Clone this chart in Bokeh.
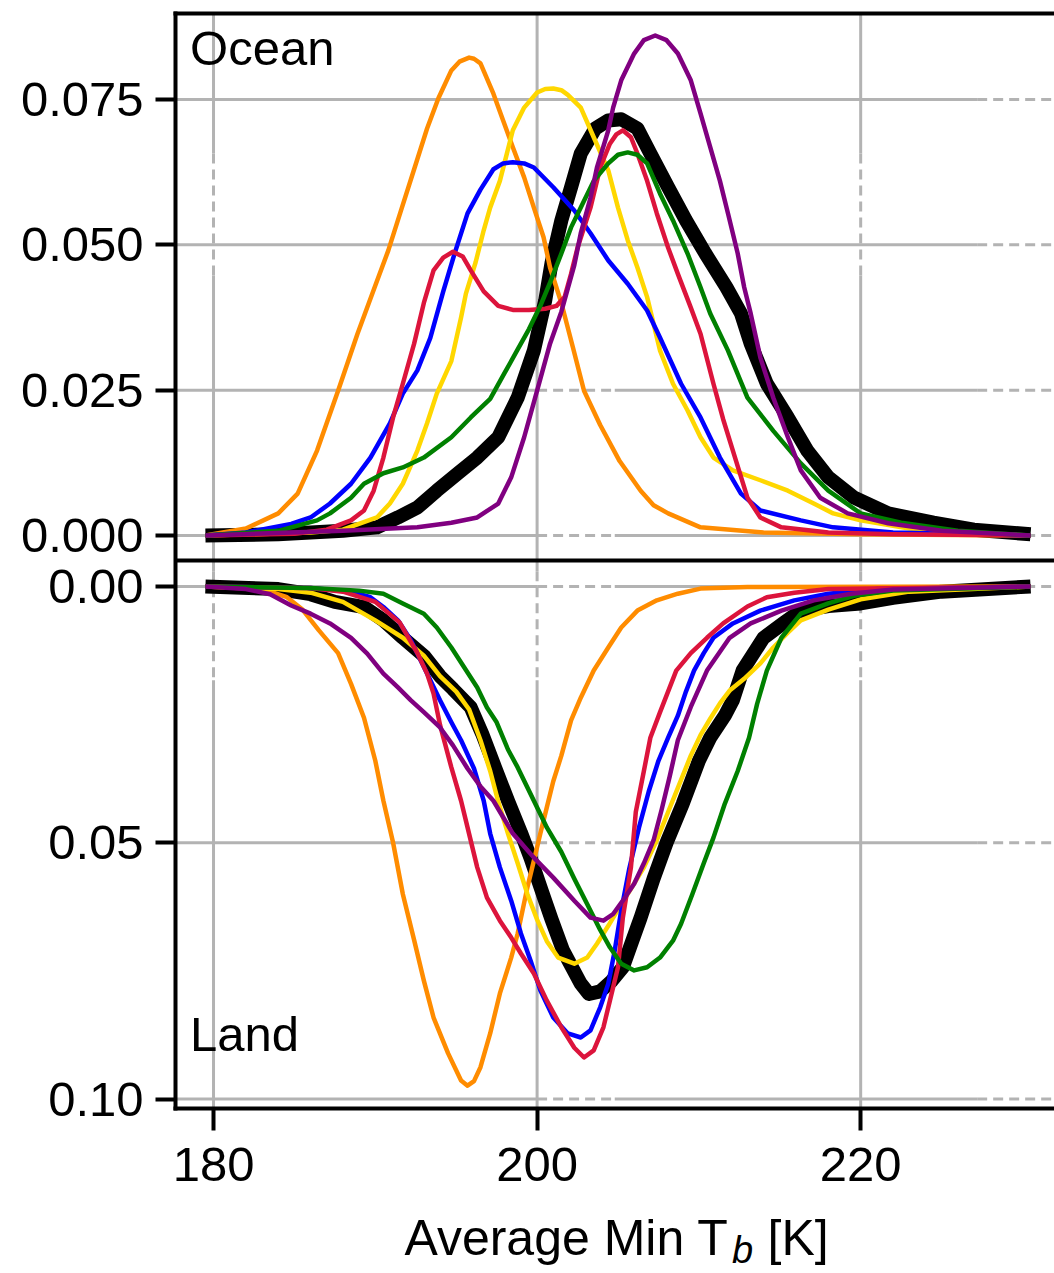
from bokeh.plotting import figure
from bokeh.layouts import column
from bokeh.models import Range1d, LinearAxis, FixedTicker, Label, Span
from bokeh.embed import file_html
from bokeh.resources import INLINE

# ---------------- data: density of average minimum Tb ----------------
# Ocean panel
ocean_black_t = [179.5, 184.0, 188.0, 190.1, 191.4, 192.6, 193.8, 195.1, 196.3, 197.6, 198.8, 199.8, 200.5, 200.9, 201.5, 202.1, 202.7, 203.6, 204.4, 205.2, 206.2, 207.0, 208.1, 209.2, 210.4, 211.7, 212.6, 213.2, 214.2, 215.5, 216.7, 218.0, 219.6, 221.7, 224.5, 227.0, 230.5]
ocean_black_v = [0.0, 0.0002, 0.0008, 0.0014, 0.0031, 0.0048, 0.0077, 0.0107, 0.0134, 0.0169, 0.0237, 0.0318, 0.0404, 0.0470, 0.0542, 0.0599, 0.0657, 0.0700, 0.0714, 0.0716, 0.0700, 0.0657, 0.0599, 0.0542, 0.0485, 0.0427, 0.0382, 0.0330, 0.0261, 0.0203, 0.0146, 0.0100, 0.0065, 0.0038, 0.0022, 0.0010, 0.0002]

ocean_orange_t = [179.5, 182.0, 184.0, 185.2, 186.4, 187.7, 188.9, 190.0, 190.8, 191.6, 192.4, 193.2, 193.9, 194.7, 195.2, 195.8, 196.1, 196.5, 197.3, 197.9, 198.5, 199.2, 199.8, 200.4, 200.8, 201.5, 202.2, 202.9, 203.9, 205.1, 206.4, 207.2, 208.1, 210.1, 214.0, 220.0, 230.5]
ocean_orange_v = [0.0, 0.0012, 0.0038, 0.0072, 0.0146, 0.0249, 0.0347, 0.0430, 0.0490, 0.0560, 0.0630, 0.0700, 0.0752, 0.0800, 0.0815, 0.0822, 0.0820, 0.0812, 0.0760, 0.0714, 0.0668, 0.0616, 0.0564, 0.0513, 0.0461, 0.0400, 0.0325, 0.0249, 0.0190, 0.0128, 0.0077, 0.0052, 0.0038, 0.0014, 0.0005, 0.0002, 0.0]

ocean_yellow_t = [179.5, 186.0, 188.0, 190.1, 190.9, 191.7, 192.6, 193.2, 193.8, 194.7, 195.3, 195.6, 196.2, 196.7, 197.1, 197.7, 198.5, 199.2, 200.0, 200.5, 201.0, 201.5, 201.9, 202.7, 203.5, 204.4, 205.0, 205.6, 206.2, 206.8, 207.6, 208.4, 209.3, 210.1, 210.9, 212.1, 213.8, 215.5, 217.1, 218.3, 220.0, 223.0, 226.0, 230.5]
ocean_yellow_v = [0.0, 0.0005, 0.0010, 0.0031, 0.0055, 0.0089, 0.0146, 0.0193, 0.0244, 0.0300, 0.0375, 0.0416, 0.0470, 0.0525, 0.0564, 0.0610, 0.0697, 0.0736, 0.0762, 0.0768, 0.0769, 0.0766, 0.0758, 0.0736, 0.0685, 0.0628, 0.0564, 0.0508, 0.0461, 0.0410, 0.0318, 0.0261, 0.0215, 0.0169, 0.0134, 0.0112, 0.0095, 0.0077, 0.0055, 0.0038, 0.0026, 0.0012, 0.0005, 0.0]

ocean_blue_t = [179.5, 182.0, 184.8, 186.0, 187.2, 188.5, 189.7, 190.9, 191.7, 192.6, 193.4, 194.2, 194.9, 195.7, 196.5, 197.3, 197.9, 198.5, 199.2, 199.8, 201.0, 202.3, 203.3, 204.4, 205.6, 206.8, 207.6, 208.9, 210.1, 211.3, 212.6, 213.8, 216.3, 218.3, 222.0, 230.5]
ocean_blue_v = [0.0, 0.0005, 0.0020, 0.0031, 0.0055, 0.0089, 0.0134, 0.0193, 0.0244, 0.0284, 0.0340, 0.0420, 0.0485, 0.0554, 0.0595, 0.0630, 0.0640, 0.0642, 0.0640, 0.0633, 0.0599, 0.0559, 0.0520, 0.0473, 0.0433, 0.0387, 0.0340, 0.0261, 0.0203, 0.0134, 0.0072, 0.0043, 0.0026, 0.0014, 0.0005, 0.0]

ocean_red_t = [179.5, 185.0, 187.0, 188.5, 189.3, 189.9, 190.5, 191.1, 191.7, 192.4, 193.0, 193.6, 194.2, 194.8, 195.4, 195.9, 196.7, 197.6, 198.5, 199.5, 200.5, 201.2, 201.7, 202.1, 202.5, 203.3, 203.9, 204.5, 204.9, 205.3, 205.8, 206.2, 206.8, 207.4, 208.1, 208.7, 209.5, 210.1, 210.9, 211.5, 212.1, 213.0, 213.8, 215.1, 218.0, 222.0, 230.5]
ocean_red_v = [0.0, 0.0003, 0.0010, 0.0026, 0.0043, 0.0077, 0.0134, 0.0203, 0.0261, 0.0330, 0.0400, 0.0456, 0.0478, 0.0488, 0.0480, 0.0456, 0.0420, 0.0395, 0.0388, 0.0388, 0.0390, 0.0395, 0.0410, 0.0450, 0.0495, 0.0564, 0.0633, 0.0674, 0.0690, 0.0697, 0.0685, 0.0657, 0.0610, 0.0554, 0.0495, 0.0450, 0.0392, 0.0347, 0.0261, 0.0200, 0.0146, 0.0065, 0.0031, 0.0014, 0.0005, 0.0002, 0.0]

ocean_green_t = [179.5, 184.0, 186.4, 187.2, 188.5, 189.3, 190.5, 191.7, 193.0, 194.7, 195.9, 197.1, 198.0, 198.8, 199.5, 200.2, 200.8, 201.5, 202.1, 202.7, 203.5, 204.4, 205.0, 205.6, 206.2, 206.8, 207.6, 208.4, 209.3, 210.1, 210.7, 211.8, 213.0, 214.6, 216.3, 218.0, 220.0, 222.5, 226.0, 230.5]
ocean_green_v = [0.0, 0.0008, 0.0026, 0.0038, 0.0065, 0.0089, 0.0107, 0.0117, 0.0134, 0.0169, 0.0203, 0.0235, 0.0280, 0.0320, 0.0355, 0.0395, 0.0435, 0.0485, 0.0530, 0.0564, 0.0610, 0.0640, 0.0655, 0.0659, 0.0655, 0.0640, 0.0588, 0.0542, 0.0485, 0.0427, 0.0382, 0.0318, 0.0237, 0.0180, 0.0124, 0.0077, 0.0038, 0.0022, 0.0008, 0.0]

ocean_purple_t = [179.5, 188.0, 192.6, 194.7, 196.3, 197.6, 198.4, 199.2, 200.0, 200.8, 201.5, 201.9, 202.3, 202.7, 203.3, 203.7, 204.4, 204.7, 205.2, 206.0, 206.6, 207.3, 208.0, 208.7, 209.5, 210.1, 210.7, 211.3, 211.8, 212.4, 212.8, 213.2, 213.8, 214.6, 215.5, 216.3, 217.5, 219.2, 221.7, 225.0, 230.5]
ocean_purple_v = [0.0, 0.0008, 0.0014, 0.0022, 0.0031, 0.0055, 0.0100, 0.0169, 0.0249, 0.0330, 0.0385, 0.0425, 0.0465, 0.0520, 0.0581, 0.0633, 0.0697, 0.0736, 0.0783, 0.0829, 0.0852, 0.0860, 0.0852, 0.0829, 0.0783, 0.0726, 0.0668, 0.0610, 0.0554, 0.0485, 0.0427, 0.0382, 0.0306, 0.0237, 0.0169, 0.0112, 0.0065, 0.0038, 0.0021, 0.0008, 0.0]

# Land panel (drawn downward)
land_black_t = [179.5, 184.0, 186.0, 187.5, 189.3, 190.5, 191.7, 193.0, 194.0, 194.8, 195.9, 196.6, 197.4, 198.2, 199.0, 199.6, 200.3, 200.9, 201.6, 202.7, 203.2, 203.9, 204.6, 205.3, 205.9, 206.4, 207.2, 208.0, 209.0, 210.0, 210.7, 211.6, 212.1, 212.7, 214.0, 215.2, 216.3, 218.0, 220.0, 222.0, 225.0, 230.5]
land_black_v = [0.0, 0.0005, 0.0015, 0.0030, 0.0040, 0.0066, 0.0100, 0.0135, 0.0175, 0.0200, 0.0236, 0.0287, 0.0353, 0.0418, 0.0480, 0.0530, 0.0595, 0.0650, 0.0710, 0.0775, 0.0795, 0.0790, 0.0770, 0.0743, 0.0690, 0.0646, 0.0570, 0.0500, 0.0424, 0.0340, 0.0295, 0.0252, 0.0222, 0.0164, 0.0100, 0.0072, 0.0047, 0.0038, 0.0033, 0.0022, 0.0010, 0.0]

land_orange_t = [179.5, 183.0, 184.5, 185.5, 186.5, 187.7, 188.5, 189.3, 190.0, 190.5, 191.1, 191.7, 192.4, 193.0, 193.6, 194.5, 195.3, 195.7, 196.1, 196.5, 197.1, 197.7, 198.4, 198.8, 199.4, 199.8, 200.2, 200.6, 201.0, 201.5, 202.1, 202.7, 203.5, 204.4, 205.2, 206.2, 207.4, 208.7, 210.1, 213.0, 230.5]
land_orange_v = [0.0, 0.0005, 0.0020, 0.0045, 0.0085, 0.0130, 0.0190, 0.0256, 0.0340, 0.0418, 0.0500, 0.0600, 0.0690, 0.0769, 0.0841, 0.0911, 0.0964, 0.0974, 0.0965, 0.0938, 0.0872, 0.0794, 0.0724, 0.0677, 0.0587, 0.0535, 0.0482, 0.0431, 0.0380, 0.0330, 0.0261, 0.0217, 0.0164, 0.0119, 0.0080, 0.0047, 0.0027, 0.0014, 0.0004, 0.0001, 0.0]

land_yellow_t = [179.5, 184.0, 186.0, 188.0, 190.0, 191.7, 193.0, 194.0, 195.0, 195.8, 196.5, 197.1, 197.6, 198.2, 198.8, 199.4, 200.0, 200.6, 201.3, 202.3, 203.1, 203.7, 204.4, 205.1, 205.8, 206.6, 207.4, 208.1, 208.8, 209.5, 210.1, 210.7, 211.3, 211.9, 212.8, 213.8, 214.6, 215.5, 216.3, 218.0, 220.0, 223.0, 230.5]
land_yellow_v = [0.0, 0.0005, 0.0012, 0.0030, 0.0066, 0.0100, 0.0135, 0.0175, 0.0205, 0.0240, 0.0300, 0.0360, 0.0420, 0.0482, 0.0540, 0.0600, 0.0650, 0.0692, 0.0724, 0.0736, 0.0724, 0.0697, 0.0662, 0.0625, 0.0590, 0.0548, 0.0495, 0.0440, 0.0385, 0.0330, 0.0290, 0.0258, 0.0228, 0.0203, 0.0180, 0.0150, 0.0119, 0.0090, 0.0066, 0.0045, 0.0025, 0.0010, 0.0]

land_blue_t = [179.5, 186.0, 188.5, 189.7, 190.5, 191.4, 192.2, 192.8, 193.4, 194.0, 194.7, 195.3, 196.1, 196.7, 197.1, 197.7, 198.4, 199.0, 199.6, 200.2, 201.0, 201.9, 202.7, 203.3, 203.9, 204.4, 204.8, 205.2, 205.7, 206.3, 206.9, 207.5, 208.1, 208.7, 209.2, 209.7, 210.3, 210.9, 212.1, 213.8, 215.9, 218.0, 221.0, 230.5]
land_blue_v = [0.0, 0.0003, 0.0010, 0.0021, 0.0040, 0.0066, 0.0105, 0.0144, 0.0183, 0.0222, 0.0265, 0.0300, 0.0355, 0.0418, 0.0482, 0.0548, 0.0613, 0.0677, 0.0730, 0.0788, 0.0841, 0.0872, 0.0880, 0.0866, 0.0821, 0.0775, 0.0710, 0.0632, 0.0550, 0.0470, 0.0400, 0.0340, 0.0295, 0.0252, 0.0205, 0.0164, 0.0130, 0.0100, 0.0072, 0.0047, 0.0027, 0.0014, 0.0005, 0.0]

land_red_t = [179.5, 186.0, 188.0, 190.0, 191.5, 192.6, 193.2, 193.6, 194.0, 194.7, 195.3, 195.7, 196.3, 196.9, 197.7, 198.4, 199.0, 199.8, 200.6, 201.5, 202.3, 202.9, 203.5, 204.1, 204.5, 205.0, 205.3, 205.8, 206.1, 206.6, 207.0, 207.6, 208.6, 209.5, 210.5, 211.5, 213.0, 214.2, 215.9, 218.0, 230.5]
land_red_v = [0.0, 0.0003, 0.0010, 0.0030, 0.0070, 0.0130, 0.0170, 0.0209, 0.0270, 0.0353, 0.0418, 0.0470, 0.0548, 0.0607, 0.0652, 0.0685, 0.0716, 0.0755, 0.0808, 0.0860, 0.0900, 0.0919, 0.0905, 0.0860, 0.0808, 0.0743, 0.0646, 0.0548, 0.0440, 0.0360, 0.0295, 0.0245, 0.0164, 0.0130, 0.0100, 0.0072, 0.0039, 0.0021, 0.0012, 0.0005, 0.0]

land_green_t = [179.5, 186.0, 189.0, 190.5, 191.7, 193.0, 193.8, 194.7, 195.5, 196.3, 196.9, 197.5, 198.2, 198.8, 199.8, 200.6, 201.5, 202.3, 203.1, 203.9, 204.5, 205.2, 206.0, 206.8, 207.6, 208.4, 208.9, 209.6, 210.3, 210.9, 211.6, 212.4, 213.1, 213.6, 214.2, 215.1, 216.3, 218.0, 219.6, 222.0, 230.5]
land_green_v = [0.0, 0.0003, 0.0008, 0.0014, 0.0033, 0.0053, 0.0080, 0.0119, 0.0158, 0.0197, 0.0236, 0.0265, 0.0318, 0.0353, 0.0418, 0.0470, 0.0518, 0.0570, 0.0620, 0.0670, 0.0704, 0.0736, 0.0749, 0.0743, 0.0724, 0.0691, 0.0658, 0.0600, 0.0540, 0.0490, 0.0424, 0.0360, 0.0295, 0.0229, 0.0164, 0.0100, 0.0053, 0.0033, 0.0018, 0.0008, 0.0]

land_purple_t = [179.5, 182.0, 183.5, 184.8, 186.0, 187.2, 188.5, 189.5, 190.5, 191.4, 192.2, 193.0, 194.0, 194.8, 195.7, 196.5, 197.3, 198.5, 199.8, 201.0, 202.3, 203.3, 204.1, 204.7, 205.3, 206.0, 206.6, 207.2, 207.7, 208.2, 208.7, 209.5, 210.5, 211.9, 213.2, 215.1, 217.1, 219.4, 222.0, 230.5]
land_purple_v = [0.0, 0.0005, 0.0015, 0.0037, 0.0053, 0.0072, 0.0100, 0.0131, 0.0170, 0.0197, 0.0222, 0.0245, 0.0275, 0.0310, 0.0355, 0.0390, 0.0418, 0.0482, 0.0529, 0.0568, 0.0613, 0.0646, 0.0652, 0.0639, 0.0613, 0.0580, 0.0540, 0.0495, 0.0435, 0.0370, 0.0300, 0.0235, 0.0164, 0.0100, 0.0072, 0.0047, 0.0027, 0.0014, 0.0006, 0.0]

x_ticks = [180, 200, 220]
ocean_ticks = [0.0, 0.025, 0.05, 0.075]
land_ticks = [0.0, 0.05, 0.10]

# ---------------- styling ----------------
FONT = "Liberation Sans"
TICK_SIZE = "49px"
GRID = "#b3b3b3"
X_LO, X_HI = 177.65, 231.98

BLACK, ORANGE, GOLD = "#000000", "#ff8c00", "#ffd700"
BLUE, CRIMSON, GREEN, PURPLE = "#0000ff", "#dc143c", "#008000", "#800080"

ocean_series = [
    (ocean_black_t, ocean_black_v, BLACK, 14),
    (ocean_orange_t, ocean_orange_v, ORANGE, 4.5),
    (ocean_yellow_t, ocean_yellow_v, GOLD, 4.5),
    (ocean_blue_t, ocean_blue_v, BLUE, 4.5),
    (ocean_red_t, ocean_red_v, CRIMSON, 4.5),
    (ocean_green_t, ocean_green_v, GREEN, 4.5),
    (ocean_purple_t, ocean_purple_v, PURPLE, 4.5),
]
land_series = [
    (land_black_t, land_black_v, BLACK, 14),
    (land_orange_t, land_orange_v, ORANGE, 4.5),
    (land_yellow_t, land_yellow_v, GOLD, 4.5),
    (land_blue_t, land_blue_v, BLUE, 4.5),
    (land_red_t, land_red_v, CRIMSON, 4.5),
    (land_green_t, land_green_v, GREEN, 4.5),
    (land_purple_t, land_purple_v, PURPLE, 4.5),
]

# Both panels share one frame: the ocean panel uses the default y range
# (upward) in the upper half, the land panel an inverted extra range below.
ocean_range = Range1d(-0.09857, 0.08979)
land_range = Range1d(0.10185, -0.11181)
ocean_floor = -0.0043     # panel divider, ocean units
land_ceiling = -0.00507   # same divider, land units


def land_to_ocean(v):
    f = (v - land_range.end) / (land_range.start - land_range.end)
    return ocean_range.end - f * (ocean_range.end - ocean_range.start)


p = figure(width=1054, height=1205,
           x_range=Range1d(X_LO, X_HI), y_range=ocean_range,
           output_backend="svg", toolbar_location=None,
           x_axis_location=None, y_axis_location=None,
           min_border_left=175, min_border_right=0,
           min_border_top=13, min_border_bottom=97)
p.extra_y_ranges = {"land": land_range}
p.grid.visible = False
p.outline_line_color = None
p.background_fill_color = "white"
p.border_fill_color = "white"

# top border
p.add_layout(LinearAxis(ticker=FixedTicker(ticks=[]), axis_line_width=4,
                        axis_line_color="black", axis_line_cap="square",
                        major_tick_out=0, major_tick_in=0,
                        minor_tick_out=0, minor_tick_in=0,
                        major_label_text_font_size="0px"), "above")

# left axis: ocean ticks plus land ticks placed through the land range
left_ticks = list(ocean_ticks) + [land_to_ocean(v) for v in land_ticks]
left_labels = {t: "%.3f" % t for t in ocean_ticks}
left_labels.update({land_to_ocean(v): "%.2f" % v for v in land_ticks})
p.add_layout(LinearAxis(ticker=FixedTicker(ticks=left_ticks),
                        major_label_overrides=left_labels,
                        axis_line_width=4, axis_line_color="black", axis_line_cap="square",
                        major_tick_out=20, major_tick_in=0, major_tick_line_width=4,
                        minor_tick_out=0, minor_tick_in=0,
                        major_label_text_font=FONT, major_label_text_font_size=TICK_SIZE,
                        major_label_text_color="black", major_label_standoff=12), "left")

# bottom axis
p.add_layout(LinearAxis(ticker=FixedTicker(ticks=x_ticks),
                        axis_line_width=4, axis_line_color="black", axis_line_cap="square",
                        major_tick_out=22, major_tick_in=0, major_tick_line_width=4,
                        minor_tick_out=0, minor_tick_in=0,
                        major_label_text_font=FONT, major_label_text_font_size=TICK_SIZE,
                        major_label_text_color="black", major_label_standoff=17), "below")


def grid_pieces(pieces, dash, range_name="default"):
    if not pieces:
        return
    x0, y0, x1, y1 = (list(c) for c in zip(*pieces))
    kw = dict(line_color=GRID, line_width=3, y_range_name=range_name)
    if dash:
        kw["line_dash"] = "10 6"
    p.segment(x0=x0, y0=y0, x1=x1, y1=y1, **kw)


def horizontal_pieces(y, split):
    if split:
        return ([(X_LO, y, 200.0, y), (204.8, y, 227.2, y)],
                [(200.0, y, 204.8, y), (227.2, y, X_HI, y)])
    return [(X_LO, y, 227.2, y)], [(227.2, y, X_HI, y)]


# ocean grid
solid, dashed = [], []
for xv in x_ticks:
    if xv == 200:
        solid.append((xv, ocean_floor, xv, ocean_range.end))
    else:
        solid += [(xv, ocean_floor, xv, 0.0447), (xv, 0.0657, xv, ocean_range.end)]
        dashed.append((xv, 0.0447, xv, 0.0657))
for yv in ocean_ticks:
    s, d = horizontal_pieces(yv, yv < 0.04)
    solid += s
    dashed += d
grid_pieces(solid, False)
grid_pieces(dashed, True)

# land grid
solid, dashed = [], []
for xv in x_ticks:
    solid += [(xv, land_ceiling, xv, -0.0030), (xv, 0.0183, xv, land_range.start)]
    dashed.append((xv, -0.0030, xv, 0.0183))
for yv in land_ticks:
    s, d = horizontal_pieces(yv, True)
    solid += s
    dashed += d
grid_pieces(solid, False, "land")
grid_pieces(dashed, True, "land")

# density curves
for t, v, c, w in ocean_series:
    p.line(t, v, line_color=c, line_width=w, line_join="round")
for t, v, c, w in land_series:
    p.line(t, v, line_color=c, line_width=w, line_join="round", y_range_name="land")

# divider between the panels
p.add_layout(Span(location=ocean_floor, dimension="width",
                  line_color="black", line_width=4))

p.add_layout(Label(x=178.55, y=0.08377, text="Ocean", text_font=FONT,
                   text_font_size=TICK_SIZE, text_color="black",
                   text_align="left", text_baseline="alphabetic"))
p.add_layout(Label(x=178.55, y=0.08722, y_range_name="land", text="Land",
                   text_font=FONT, text_font_size=TICK_SIZE, text_color="black",
                   text_align="left", text_baseline="alphabetic"))

# x-axis title with subscript, in a strip under the plot
t = figure(width=1054, height=68, x_range=Range1d(X_LO, X_HI), y_range=Range1d(0, 68),
           output_backend="svg", toolbar_location=None,
           x_axis_location=None, y_axis_location=None,
           min_border_left=175, min_border_right=0,
           min_border_top=0, min_border_bottom=0)
t.grid.visible = False
t.outline_line_color = None
t.background_fill_color = "white"
t.border_fill_color = "white"
t.add_layout(Label(x=191.80, y=36, text="Average Min T", text_font=FONT,
                   text_font_size="50px", text_color="black",
                   text_align="left", text_baseline="alphabetic"))
t.add_layout(Label(x=212.05, y=24, text="b", text_font=FONT,
                   text_font_size="38px", text_font_style="italic",
                   text_color="black", text_align="left",
                   text_baseline="alphabetic"))
t.add_layout(Label(x=214.24, y=36, text="[K]", text_font=FONT,
                   text_font_size="50px", text_color="black",
                   text_align="left", text_baseline="alphabetic"))

layout = column(p, t, spacing=0)

with open("out.html", "w") as f:
    f.write(file_html(layout, INLINE))
